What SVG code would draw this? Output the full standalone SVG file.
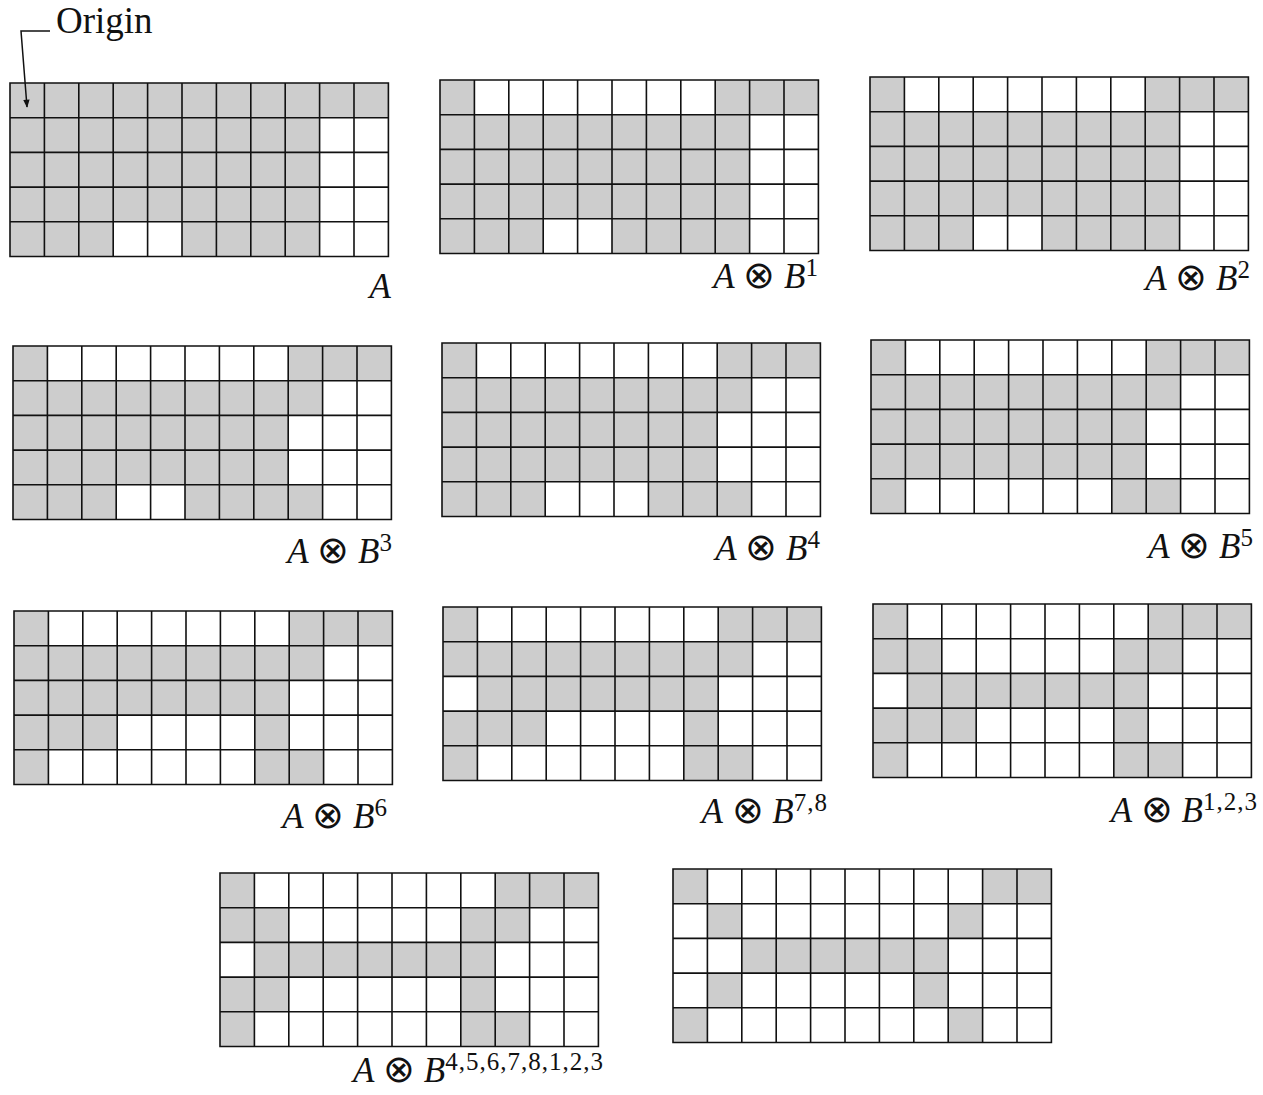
<svg xmlns="http://www.w3.org/2000/svg" width="1263" height="1095" viewBox="0 0 1263 1095">
<style>
.s{fill:#cdcdcd}
.g{fill:none;stroke:#111;stroke-width:1.6}
.lbl{font-family:"Liberation Serif","Times New Roman",serif;font-size:35px;fill:#111}
.it{font-style:italic}
.op{font-size:38px}
.sup{font-size:25px;letter-spacing:1px}
.orig{font-family:"Liberation Serif","Times New Roman",serif;font-size:37px;fill:#111}
</style>
<defs>
<path id="grid" d="M0,0H378.4V173.5H0Z M34.4,0V173.5 M68.8,0V173.5 M103.2,0V173.5 M137.6,0V173.5 M172,0V173.5 M206.4,0V173.5 M240.8,0V173.5 M275.2,0V173.5 M309.6,0V173.5 M344,0V173.5 M0,34.7H378.4 M0,69.4H378.4 M0,104.1H378.4 M0,138.8H378.4"/>
<marker id="arr" viewBox="0 0 10 10" refX="9" refY="5" markerWidth="9" markerHeight="8" orient="auto" markerUnits="userSpaceOnUse">
<path d="M0,1 L10,5 L0,9 Z" fill="#111"/>
</marker>
</defs>

<text class="orig" x="56" y="33">Origin</text>

<g id="gridA" transform="translate(10,83)">
<rect class="s" x="0" y="0" width="378.4" height="34.7"/>
<rect class="s" x="0" y="34.7" width="309.6" height="104.1"/>
<rect class="s" x="0" y="138.8" width="103.2" height="34.7"/>
<rect class="s" x="172" y="138.8" width="137.6" height="34.7"/>
<use href="#grid" class="g"/>
</g>
<text class="lbl it" x="391" y="298" text-anchor="end">A</text>

<g id="gridB1" transform="translate(440,80)">
<rect class="s" x="0" y="0" width="34.4" height="34.7"/>
<rect class="s" x="275.2" y="0" width="103.2" height="34.7"/>
<rect class="s" x="0" y="34.7" width="309.6" height="104.1"/>
<rect class="s" x="0" y="138.8" width="103.2" height="34.7"/>
<rect class="s" x="172" y="138.8" width="137.6" height="34.7"/>
<use href="#grid" class="g"/>
</g>
<text class="lbl" x="819" y="288" text-anchor="end"><tspan class="it">A</tspan> <tspan class="op">⊗</tspan> <tspan class="it">B</tspan><tspan class="sup" dy="-12">1</tspan></text>

<g id="gridB2" transform="translate(870,77)">
<rect class="s" x="0" y="0" width="34.4" height="34.7"/>
<rect class="s" x="275.2" y="0" width="103.2" height="34.7"/>
<rect class="s" x="0" y="34.7" width="309.6" height="104.1"/>
<rect class="s" x="0" y="138.8" width="103.2" height="34.7"/>
<rect class="s" x="172" y="138.8" width="137.6" height="34.7"/>
<use href="#grid" class="g"/>
</g>
<text class="lbl" x="1251" y="290" text-anchor="end"><tspan class="it">A</tspan> <tspan class="op">⊗</tspan> <tspan class="it">B</tspan><tspan class="sup" dy="-12">2</tspan></text>

<g id="gridB3" transform="translate(13,346)">
<rect class="s" x="0" y="0" width="34.4" height="34.7"/>
<rect class="s" x="275.2" y="0" width="103.2" height="34.7"/>
<rect class="s" x="0" y="34.7" width="309.6" height="34.7"/>
<rect class="s" x="0" y="69.4" width="275.2" height="69.4"/>
<rect class="s" x="0" y="138.8" width="103.2" height="34.7"/>
<rect class="s" x="172" y="138.8" width="137.6" height="34.7"/>
<use href="#grid" class="g"/>
</g>
<text class="lbl" x="393" y="563" text-anchor="end"><tspan class="it">A</tspan> <tspan class="op">⊗</tspan> <tspan class="it">B</tspan><tspan class="sup" dy="-12">3</tspan></text>

<g id="gridB4" transform="translate(442,343)">
<rect class="s" x="0" y="0" width="34.4" height="34.7"/>
<rect class="s" x="275.2" y="0" width="103.2" height="34.7"/>
<rect class="s" x="0" y="34.7" width="309.6" height="34.7"/>
<rect class="s" x="0" y="69.4" width="275.2" height="69.4"/>
<rect class="s" x="0" y="138.8" width="103.2" height="34.7"/>
<rect class="s" x="206.4" y="138.8" width="103.2" height="34.7"/>
<use href="#grid" class="g"/>
</g>
<text class="lbl" x="821" y="560" text-anchor="end"><tspan class="it">A</tspan> <tspan class="op">⊗</tspan> <tspan class="it">B</tspan><tspan class="sup" dy="-12">4</tspan></text>

<g id="gridB5" transform="translate(871,340)">
<rect class="s" x="0" y="0" width="34.4" height="34.7"/>
<rect class="s" x="275.2" y="0" width="103.2" height="34.7"/>
<rect class="s" x="0" y="34.7" width="309.6" height="34.7"/>
<rect class="s" x="0" y="69.4" width="275.2" height="69.4"/>
<rect class="s" x="0" y="138.8" width="34.4" height="34.7"/>
<rect class="s" x="240.8" y="138.8" width="68.8" height="34.7"/>
<use href="#grid" class="g"/>
</g>
<text class="lbl" x="1254" y="558" text-anchor="end"><tspan class="it">A</tspan> <tspan class="op">⊗</tspan> <tspan class="it">B</tspan><tspan class="sup" dy="-12">5</tspan></text>

<g id="gridB6" transform="translate(14,611)">
<rect class="s" x="0" y="0" width="34.4" height="34.7"/>
<rect class="s" x="275.2" y="0" width="103.2" height="34.7"/>
<rect class="s" x="0" y="34.7" width="309.6" height="34.7"/>
<rect class="s" x="0" y="69.4" width="275.2" height="34.7"/>
<rect class="s" x="0" y="104.1" width="103.2" height="34.7"/>
<rect class="s" x="240.8" y="104.1" width="34.4" height="34.7"/>
<rect class="s" x="0" y="138.8" width="34.4" height="34.7"/>
<rect class="s" x="240.8" y="138.8" width="68.8" height="34.7"/>
<use href="#grid" class="g"/>
</g>
<text class="lbl" x="388" y="828" text-anchor="end"><tspan class="it">A</tspan> <tspan class="op">⊗</tspan> <tspan class="it">B</tspan><tspan class="sup" dy="-12">6</tspan></text>

<g id="gridB78" transform="translate(443,607)">
<rect class="s" x="0" y="0" width="34.4" height="34.7"/>
<rect class="s" x="275.2" y="0" width="103.2" height="34.7"/>
<rect class="s" x="0" y="34.7" width="309.6" height="34.7"/>
<rect class="s" x="34.4" y="69.4" width="240.8" height="34.7"/>
<rect class="s" x="0" y="104.1" width="103.2" height="34.7"/>
<rect class="s" x="240.8" y="104.1" width="34.4" height="34.7"/>
<rect class="s" x="0" y="138.8" width="34.4" height="34.7"/>
<rect class="s" x="240.8" y="138.8" width="68.8" height="34.7"/>
<use href="#grid" class="g"/>
</g>
<text class="lbl" x="828" y="823" text-anchor="end"><tspan class="it">A</tspan> <tspan class="op">⊗</tspan> <tspan class="it">B</tspan><tspan class="sup" dy="-12">7,8</tspan></text>

<g id="gridB123" transform="translate(873,604)">
<rect class="s" x="0" y="0" width="34.4" height="34.7"/>
<rect class="s" x="275.2" y="0" width="103.2" height="34.7"/>
<rect class="s" x="0" y="34.7" width="68.8" height="34.7"/>
<rect class="s" x="240.8" y="34.7" width="68.8" height="34.7"/>
<rect class="s" x="34.4" y="69.4" width="240.8" height="34.7"/>
<rect class="s" x="0" y="104.1" width="103.2" height="34.7"/>
<rect class="s" x="240.8" y="104.1" width="34.4" height="34.7"/>
<rect class="s" x="0" y="138.8" width="34.4" height="34.7"/>
<rect class="s" x="240.8" y="138.8" width="68.8" height="34.7"/>
<use href="#grid" class="g"/>
</g>
<text class="lbl" x="1258" y="822" text-anchor="end"><tspan class="it">A</tspan> <tspan class="op">⊗</tspan> <tspan class="it">B</tspan><tspan class="sup" dy="-12">1,2,3</tspan></text>

<g id="gridB45678123" transform="translate(220,873)">
<rect class="s" x="0" y="0" width="34.4" height="34.7"/>
<rect class="s" x="275.2" y="0" width="103.2" height="34.7"/>
<rect class="s" x="0" y="34.7" width="68.8" height="34.7"/>
<rect class="s" x="240.8" y="34.7" width="68.8" height="34.7"/>
<rect class="s" x="34.4" y="69.4" width="240.8" height="34.7"/>
<rect class="s" x="0" y="104.1" width="68.8" height="34.7"/>
<rect class="s" x="240.8" y="104.1" width="34.4" height="34.7"/>
<rect class="s" x="0" y="138.8" width="34.4" height="34.7"/>
<rect class="s" x="240.8" y="138.8" width="68.8" height="34.7"/>
<use href="#grid" class="g"/>
</g>
<text class="lbl" x="604" y="1082" text-anchor="end"><tspan class="it">A</tspan> <tspan class="op">⊗</tspan> <tspan class="it">B</tspan><tspan class="sup" dy="-12">4,5,6,7,8,1,2,3</tspan></text>

<g id="gridFinal" transform="translate(673,869)">
<rect class="s" x="0" y="0" width="34.4" height="34.7"/>
<rect class="s" x="309.6" y="0" width="68.8" height="34.7"/>
<rect class="s" x="34.4" y="34.7" width="34.4" height="34.7"/>
<rect class="s" x="275.2" y="34.7" width="34.4" height="34.7"/>
<rect class="s" x="68.8" y="69.4" width="206.4" height="34.7"/>
<rect class="s" x="34.4" y="104.1" width="34.4" height="34.7"/>
<rect class="s" x="240.8" y="104.1" width="34.4" height="34.7"/>
<rect class="s" x="0" y="138.8" width="34.4" height="34.7"/>
<rect class="s" x="275.2" y="138.8" width="34.4" height="34.7"/>
<use href="#grid" class="g"/>
</g>

<g id="connectors">
<path d="M50,31 H21 L27,107" fill="none" stroke="#111" stroke-width="1.5" marker-end="url(#arr)"/>
</g>
</svg>
